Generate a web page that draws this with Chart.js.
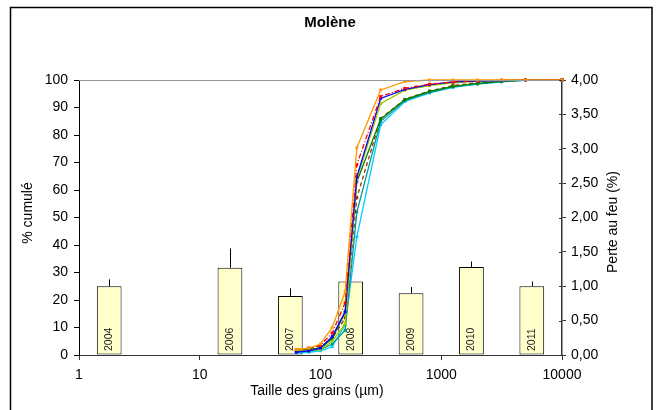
<!DOCTYPE html>
<html>
<head>
<meta charset="utf-8">
<script src="https://cdn.jsdelivr.net/npm/chart.js@4/dist/chart.umd.min.js"></script>
<style>
  html, body { margin: 0; padding: 0; background: #fff; }
</style>
</head>
<body>
<canvas id="chart" width="657" height="410"></canvas>
<script>
// grain sizes (µm) of the sieves
const sizes = [63, 80, 100, 125, 160, 200, 315, 500, 800, 1250, 2000, 3150, 5000, 10000];

// cumulative % curves
const cumOrange = [2.0, 2.5, 4.0, 10.0, 23.0, 75.4, 96.4, 99.4, 100, 100, 100, 100, 100, 100];
const cumRed    = [2.0, 2.5, 3.5, 8.0, 19.0, 69.2, 94.0, 97.0, 98.5, 99.3, 99.7, 100, 100, 100];
const cumBlue   = [1.0, 1.5, 2.5, 6.7, 15.7, 64.8, 93.3, 96.6, 98.3, 99.3, 99.6, 99.8, 100, 100];
const cumLime   = [1.5, 1.5, 2.0, 5.0, 11.3, 64.0, 91.4, 96.3, 98.0, 99.0, 99.5, 99.8, 100, 100];
const cumGreen  = [1.5, 2.0, 2.5, 6.0, 15.6, 63.0, 85.8, 92.9, 95.9, 97.7, 98.8, 99.5, 100, 100];
const cumBrown  = [1.5, 2.5, 3.0, 6.0, 13.5, 57.2, 86.0, 93.0, 96.0, 98.0, 99.0, 99.6, 100, 100];
const cumTeal   = [1.2, 1.5, 2.0, 4.0, 9.0, 52.0, 85.0, 92.5, 95.5, 97.5, 98.6, 99.4, 100, 100];
const cumCyan   = [0.8, 1.0, 1.5, 3.0, 11.0, 43.0, 83.7, 92.2, 95.3, 97.3, 98.5, 99.3, 99.9, 100];

// loss on ignition per year (right axis) and the error bar tops
const years    = ['2004', '2005', '2006', '2007', '2008', '2009', '2010', '2011'];
const perteFeu = [1.00, null, 1.27, 0.86, 1.07, 0.90, 1.28, 1.00];
const perteErr = [0.10, null, 0.28, 0.11, 0.00, 0.09, 0.08, 0.07];

const xTicks = [1, 10, 100, 1000, 10000];

const font = "'Liberation Sans', Arial, sans-serif";

function curve(label, values, color, dash) {
    return {
        type: 'line',
        label: label,
        data: sizes.map((s, i) => ({ x: s, y: values[i] })),
        xAxisID: 'x',
        yAxisID: 'y',
        borderColor: color,
        backgroundColor: color,
        borderWidth: 1.3,
        borderDash: dash || [],
        pointStyle: 'rect',
        pointRadius: 2,
        pointBorderWidth: 0,
        tension: 0,
        clip: 6,
        order: 1
    };
}

const decor = {
    id: 'decor',
    beforeDraw(chart) {
        const ctx = chart.ctx;
        ctx.save();
        ctx.fillStyle = '#fff';
        ctx.fillRect(0, 0, chart.width, chart.height);
        ctx.restore();
    },
    afterDatasetDraw(chart, args) {
        if (args.meta.type !== 'bar') return;
        const ctx = chart.ctx;
        const y2 = chart.scales.y2;
        ctx.save();
        args.meta.data.forEach((el, i) => {
            if (perteFeu[i] == null) return;
            const x = Math.round(el.x) + 0.5;
            if (perteErr[i]) {
                ctx.strokeStyle = '#000';
                ctx.lineWidth = 1;
                ctx.beginPath();
                ctx.moveTo(x, el.y);
                ctx.lineTo(x, y2.getPixelForValue(perteFeu[i] + perteErr[i]));
                ctx.stroke();
            }
            ctx.save();
            ctx.translate(el.x, 351);
            ctx.rotate(-Math.PI / 2);
            ctx.fillStyle = '#222';
            ctx.font = '10.5px ' + font;
            ctx.textAlign = 'left';
            ctx.textBaseline = 'middle';
            ctx.fillText(years[i], 0, 0);
            ctx.restore();
        });
        ctx.restore();
    },
    afterDraw(chart) {
        const ctx = chart.ctx;
        const a = chart.chartArea;
        ctx.save();
        // top line of the plot area
        ctx.strokeStyle = '#999';
        ctx.lineWidth = 1;
        ctx.beginPath();
        ctx.moveTo(a.left, Math.round(a.top) + 0.5);
        ctx.lineTo(a.right, Math.round(a.top) + 0.5);
        ctx.stroke();
        // inner half of the right axis ticks
        ctx.strokeStyle = '#333';
        chart.scales.y2.ticks.forEach(t => {
            const y = Math.round(chart.scales.y2.getPixelForValue(t.value)) + 0.5;
            ctx.beginPath();
            ctx.moveTo(a.right - 3, y);
            ctx.lineTo(a.right, y);
            ctx.stroke();
        });
        // frame
        ctx.strokeStyle = '#000';
        ctx.lineWidth = 1.5;
        ctx.strokeRect(10.5, 7.5, 641.5, 420);
        // titles
        ctx.fillStyle = '#000';
        ctx.textAlign = 'center';
        ctx.textBaseline = 'middle';
        ctx.font = 'bold 15px ' + font;
        ctx.fillText('Molène', 330, 23);
        ctx.font = '14px ' + font;
        ctx.fillText('Taille des grains (µm)', 317, 391);
        ctx.save();
        ctx.translate(28, 213);
        ctx.rotate(-Math.PI / 2);
        ctx.fillText('% cumulé', 0, 0);
        ctx.restore();
        ctx.save();
        ctx.translate(613, 222);
        ctx.rotate(-Math.PI / 2);
        ctx.fillText('Perte au feu (%)', 0, 0);
        ctx.restore();
        ctx.restore();
    }
};

new Chart(document.getElementById('chart'), {
    data: {
        labels: years,
        datasets: [
            {
                type: 'bar',
                label: 'Perte au feu',
                data: perteFeu,
                xAxisID: 'xBar',
                yAxisID: 'y2',
                backgroundColor: '#FFFFCC',
                borderColor: '#000',
                borderWidth: 1,
                borderSkipped: false,
                grouped: false,
                barPercentage: 0.41,
                categoryPercentage: 1,
                order: 10
            },
            curve('a', cumOrange, '#FF9900'),
            curve('b', cumRed, '#FF0000', [5, 2, 1, 2]),
            curve('c', cumBlue, '#0000FF'),
            curve('d', cumLime, '#99CC00'),
            curve('e', cumGreen, '#008000'),
            curve('f', cumBrown, '#993300', [4, 3]),
            curve('g', cumTeal, '#009999'),
            curve('h', cumCyan, '#00CCFF')
        ]
    },
    options: {
        responsive: false,
        animation: false,
        layout: { padding: { top: 80, left: 0, right: 0, bottom: 0 } },
        plugins: {
            legend: { display: false },
            title: { display: false },
            tooltip: { enabled: false }
        },
        scales: {
            x: {
                type: 'logarithmic',
                position: 'bottom',
                min: 1,
                max: 10000,
                afterBuildTicks: scale => { scale.ticks = xTicks.map(v => ({ value: v })); },
                afterFit: scale => { scale.height = 55; },
                ticks: {
                    callback: v => String(v),
                    autoSkip: false,
                    maxRotation: 0,
                    padding: 7,
                    color: '#000',
                    font: { family: font, size: 14 }
                },
                grid: { drawOnChartArea: false, tickLength: 5, color: '#333' },
                border: { color: '#333', width: 1 }
            },
            xBar: {
                type: 'category',
                display: false,
                offset: true
            },
            y: {
                position: 'left',
                min: 0,
                max: 100,
                afterFit: scale => { scale.width = 79; },
                ticks: {
                    stepSize: 10,
                    padding: 6,
                    color: '#000',
                    font: { family: font, size: 14 }
                },
                grid: { drawOnChartArea: false, tickLength: 5, color: '#000' },
                border: { color: '#000', width: 1 }
            },
            y2: {
                position: 'right',
                min: 0,
                max: 4,
                afterFit: scale => { scale.width = 95; },
                ticks: {
                    stepSize: 0.5,
                    padding: 5,
                    color: '#000',
                    font: { family: font, size: 14 },
                    callback: v => v.toFixed(2).replace('.', ',')
                },
                grid: { drawOnChartArea: false, tickLength: 4, color: '#333' },
                border: { color: '#333', width: 1.5 }
            }
        }
    },
    plugins: [decor]
});
</script>
</body>
</html>
